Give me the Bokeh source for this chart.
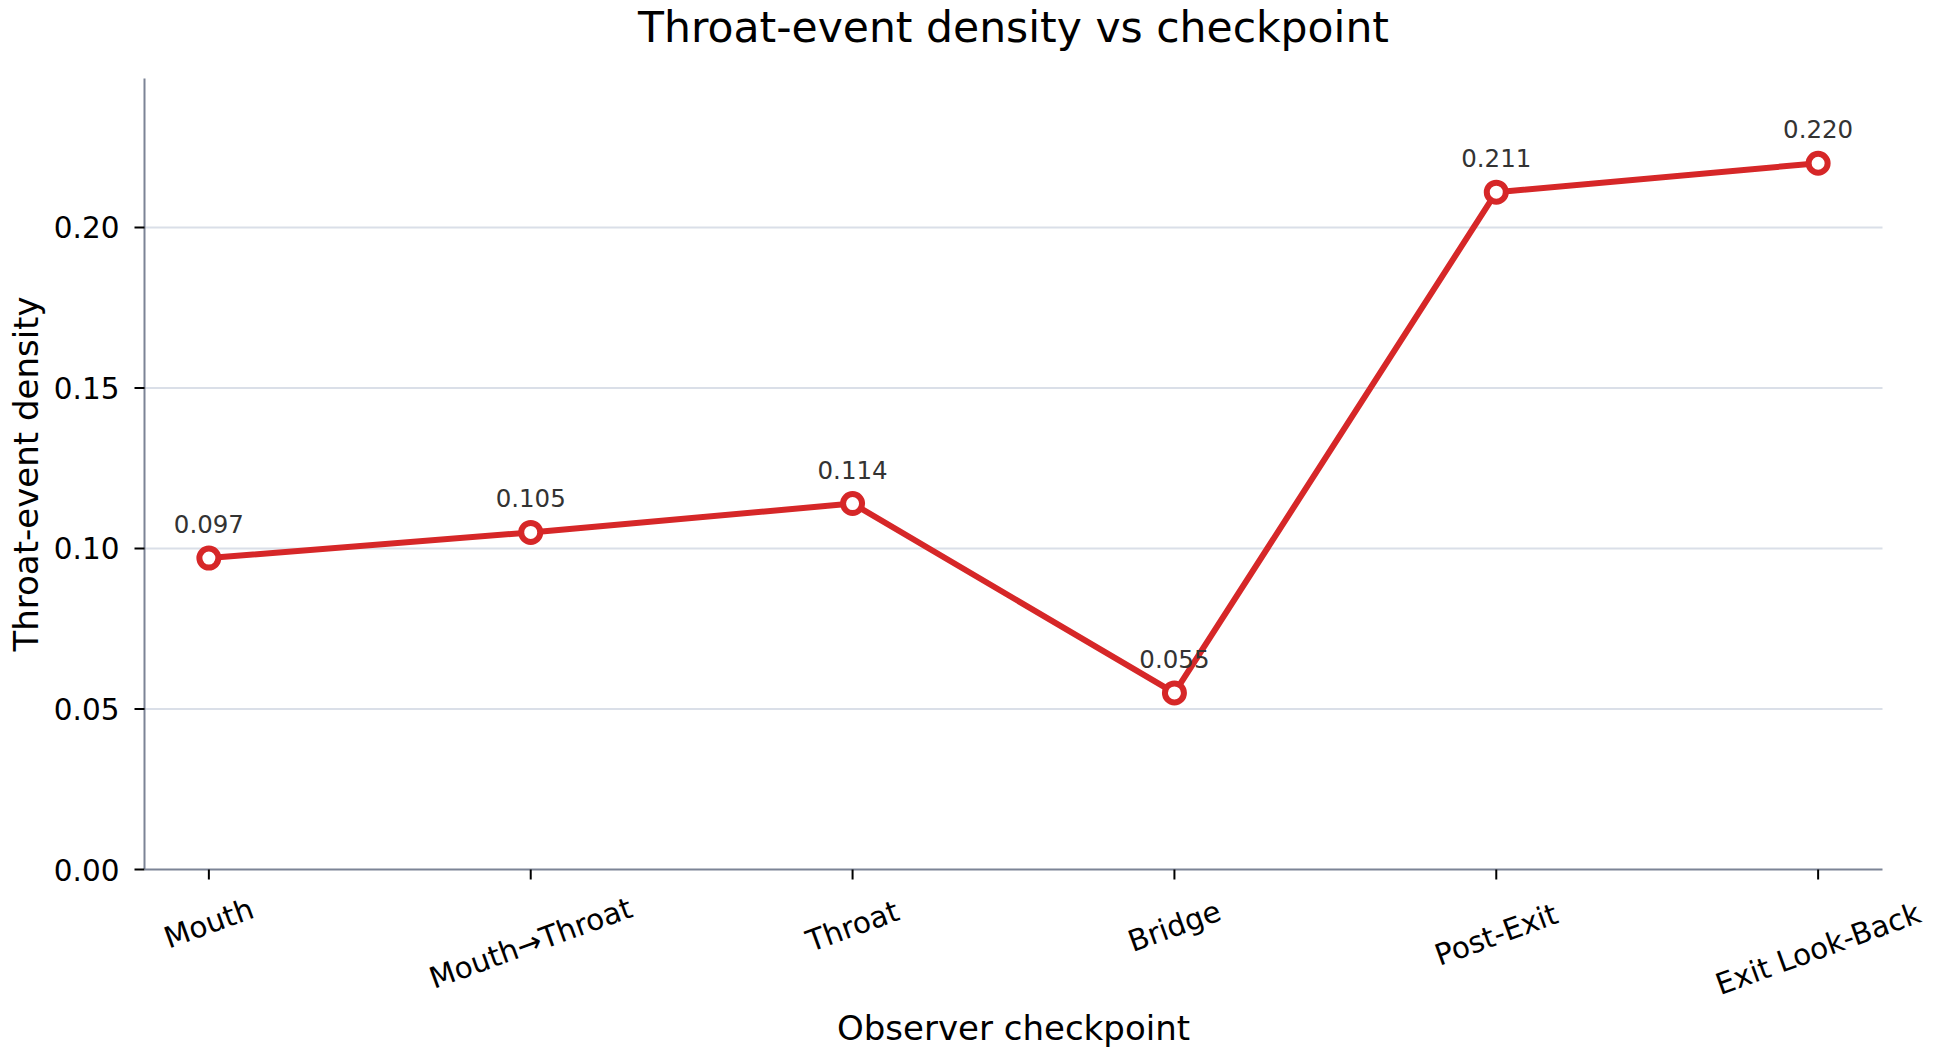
import math

from bokeh.core.properties import value
from bokeh.embed import file_html
from bokeh.models import ColumnDataSource, LabelSet, Range1d
from bokeh.plotting import figure
from bokeh.resources import INLINE

categories = ["Mouth", "Mouth\u2192Throat", "Throat", "Bridge", "Post-Exit", "Exit Look-Back"]
density = [0.097, 0.105, 0.114, 0.055, 0.211, 0.220]
y_ticks = [0.00, 0.05, 0.10, 0.15, 0.20]

FONT = "DejaVu Sans"
RED = "#d62728"
AXIS_GREY = "#7c8496"
TICK_PX = 29.5
ANGLE = math.radians(20)

W, H = 1936, 1056
# plot box (canvas pixels) that holds the data: left, right, top, bottom
BOX_L, BOX_R, BOX_T, BOX_B = 144, 1882, 78, 869

idx = list(range(len(categories)))
x_lo, x_hi = -0.2, len(categories) - 0.8
y_lo, y_hi = 0.0, max(density) * 1.12
kx = (BOX_R - BOX_L) / (x_hi - x_lo)
ky = (BOX_B - BOX_T) / (y_hi - y_lo)
x_mid = (x_lo + x_hi) / 2

src = ColumnDataSource(data=dict(
    x=idx,
    y=density,
    label=["%.3f" % v for v in density],
))

# the frame covers the whole canvas; axes, title and labels are drawn as glyphs so
# nothing outside the plot box gets clipped
p = figure(width=W, height=H, output_backend="svg", toolbar_location=None,
           x_range=Range1d(x_lo - BOX_L / kx, x_lo + (W - BOX_L) / kx),
           y_range=Range1d(y_lo - (H - BOX_B) / ky, y_hi + BOX_T / ky),
           min_border=0)
p.outline_line_color = None
p.background_fill_color = "white"
p.grid.visible = False
p.axis.visible = False


def px_x(d):
    return d / kx


def px_y(d):
    return d / ky


txt = dict(text_font=value(FONT), text_color="black")

# horizontal grid lines
grid_y = [t for t in y_ticks if t > y_lo]
p.segment(x0=[x_lo] * len(grid_y), x1=[x_hi] * len(grid_y), y0=grid_y, y1=grid_y,
          line_color="#dadfe8", line_width=2, level="underlay")

# y axis
p.segment(x0=[x_lo], x1=[x_lo], y0=[y_lo], y1=[y_hi], line_color=AXIS_GREY, line_width=2)
p.segment(x0=[x_lo - px_x(10)] * len(y_ticks), x1=[x_lo] * len(y_ticks), y0=y_ticks, y1=y_ticks,
          line_color="black", line_width=2)
p.text(x=[x_lo - px_x(25)] * len(y_ticks), y=y_ticks, text=["%.2f" % t for t in y_ticks],
       text_font_size="%.1fpx" % TICK_PX, text_align="right", text_baseline="middle", **txt)
p.text(x=[x_lo - px_x(BOX_L - 25)], y=[(y_lo + y_hi) / 2], text=["Throat-event density"],
       angle=math.pi / 2, text_font_size="34px", text_align="center", text_baseline="middle",
       **txt)

# x axis
p.segment(x0=[x_lo], x1=[x_hi], y0=[y_lo], y1=[y_lo], line_color=AXIS_GREY, line_width=2)
p.segment(x0=idx, x1=idx, y0=[y_lo] * len(idx), y1=[y_lo - px_y(10)] * len(idx),
          line_color="black", line_width=2)


def rot_half_height(s):
    w = len(s) * 0.56 * TICK_PX
    return (w * math.sin(ANGLE) + TICK_PX * math.cos(ANGLE)) / 2


p.text(x=idx, y=[y_lo - px_y(26 + rot_half_height(c)) for c in categories], text=categories,
       angle=ANGLE, text_font_size="%.1fpx" % TICK_PX, text_align="center",
       text_baseline="middle", **txt)
p.text(x=[x_mid], y=[y_lo - px_y(1027 - BOX_B)], text=["Observer checkpoint"],
       text_font_size="34px", text_align="center", text_baseline="middle", **txt)

# title
p.text(x=[x_mid], y=[y_hi + px_y(BOX_T - 27)], text=["Throat-event density vs checkpoint"],
       text_font_size="42.5px", text_align="center", text_baseline="middle", **txt)

# data
p.line("x", "y", source=src, line_color=RED, line_width=6)
p.scatter("x", "y", source=src, size=19, marker="circle",
          fill_color="white", line_color=RED, line_width=6)
p.add_layout(LabelSet(x="x", y="y", text="label", source=src,
                      text_font=value(FONT), text_font_size="24.5px", text_color="#333333",
                      text_align="center", text_baseline="alphabetic", y_offset=25))

open("out.html", "w").write(file_html(p, INLINE))
